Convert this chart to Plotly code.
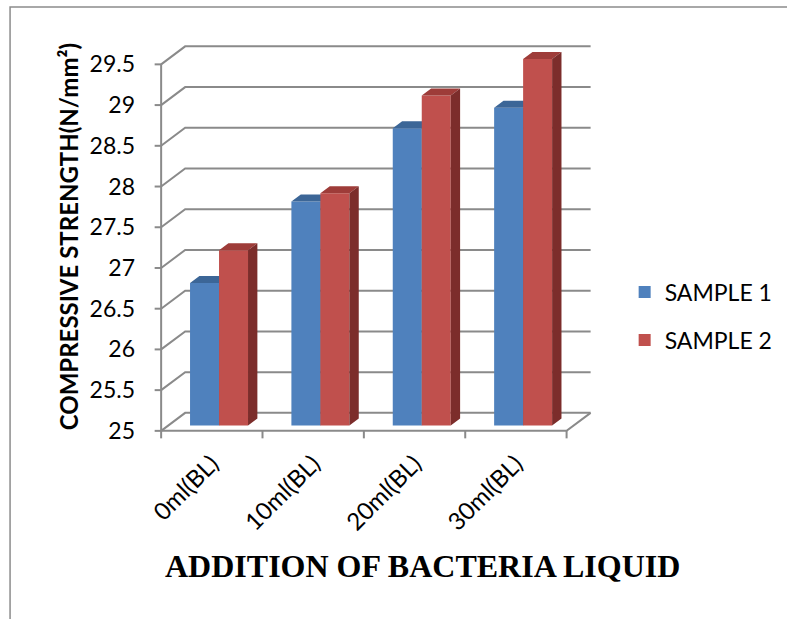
import plotly.graph_objects as go

# ---- data ----
categories = ["0ml(BL)", "10ml(BL)", "20ml(BL)", "30ml(BL)"]
sample1 = [26.75, 27.75, 28.65, 28.9]
sample2 = [27.15, 27.85, 29.05, 29.5]
series_names = ["SAMPLE 1", "SAMPLE 2"]
y_ticks = [25, 25.5, 26, 26.5, 27, 27.5, 28, 28.5, 29, 29.5]
y_tick_labels = ["25", "25.5", "26", "26.5", "27", "27.5", "28", "28.5", "29", "29.5"]

# ---- pseudo-3D geometry (x in category units, y in value units) ----
Y_MIN = 25
DEPTH_X = 0.237          # horizontal shift from front plane to back wall
DEPTH_Y = 0.221          # vertical shift from front plane to back wall
FRONT_FRAC = 0.30        # depth at which bar fronts sit
BAR_FRAC = 0.39          # bar thickness as a share of the depth
BAR_W = 0.286            # bar width in category units
X_RANGE = [-0.1, 4.3]
Y_RANGE = [24.9, 29.75]

GRID = "#8a8a8a"
FRONT = ["#4F81BD", "#C0504D"]
TOP = ["#3C6697", "#9E3C39"]
SIDE = ["#335884", "#7C2D2B"]
FONT = "Lato, 'Open Sans', sans-serif"
TICK_SIZE = 23

n_cat = len(categories)
fx, fy = FRONT_FRAC * DEPTH_X, FRONT_FRAC * DEPTH_Y
sx, sy = BAR_FRAC * DEPTH_X, BAR_FRAC * DEPTH_Y

fig = go.Figure()

# back wall gridlines with their left-wall diagonals
gx, gy = [], []
for v in y_ticks:
    gx += [0, DEPTH_X, n_cat + DEPTH_X, None]
    gy += [v, v + DEPTH_Y, v + DEPTH_Y, None]
# floor front edge + right diagonal, front value axis
gx += [0, n_cat, n_cat + DEPTH_X, None, 0, 0, None]
gy += [Y_MIN, Y_MIN, Y_MIN + DEPTH_Y, None, Y_MIN, y_ticks[-1], None]
# tick marks
tlx = 0.064
tly = 0.092
for v in y_ticks:
    gx += [-tlx, 0, None]
    gy += [v, v, None]
for k in range(n_cat + 1):
    gx += [k, k, None]
    gy += [Y_MIN, Y_MIN - tly, None]
fig.add_trace(go.Scatter(x=gx, y=gy, mode="lines", line=dict(color=GRID, width=2),
                         hoverinfo="skip", showlegend=False, xaxis="x", yaxis="y"))

# bars: each series on its own overlaid axis pair so later series paint on top
for s, vals in enumerate([sample1, sample2]):
    xa, ya = f"x{s + 2}", f"y{s + 2}"
    centers = [i + 0.5 + fx + (s - 0.5) * BAR_W for i in range(n_cat)]
    base = Y_MIN + fy
    fig.add_trace(go.Bar(
        x=centers, y=[v - Y_MIN for v in vals], base=base, width=BAR_W,
        marker=dict(color=FRONT[s], line=dict(width=0)), name=series_names[s],
        legendgroup=series_names[s], customdata=vals,
        hovertemplate="%{customdata}<extra>" + series_names[s] + "</extra>",
        xaxis=xa, yaxis=ya))
    tx, ty, px, py = [], [], [], []
    for c, v in zip(centers, vals):
        xl, xr = c - BAR_W / 2, c + BAR_W / 2
        t = v + fy
        tx += [xl, xr, xr + sx, xl + sx, xl, None]
        ty += [t, t, t + sy, t + sy, t, None]
        px += [xr, xr, xr + sx, xr + sx, xr, None]
        py += [base, t, t + sy, base + sy, base, None]
    fig.add_trace(go.Scatter(x=tx, y=ty, fill="toself", fillcolor=TOP[s], mode="lines",
                             line=dict(width=0, color=TOP[s]), hoverinfo="skip",
                             showlegend=False, xaxis=xa, yaxis=ya))
    fig.add_trace(go.Scatter(x=px, y=py, fill="toself", fillcolor=SIDE[s], mode="lines",
                             line=dict(width=0, color=SIDE[s]), hoverinfo="skip",
                             showlegend=False, xaxis=xa, yaxis=ya))

hidden = dict(visible=False, showgrid=False, zeroline=False, fixedrange=True)
fig.update_layout(
    width=787, height=619,
    margin=dict(l=151, r=190, t=44, b=180, autoexpand=False),
    paper_bgcolor="white", plot_bgcolor="rgba(0,0,0,0)",
    barmode="overlay",
    font=dict(family=FONT, size=TICK_SIZE, color="black"),
    xaxis=dict(range=X_RANGE, tickvals=[i + 0.5 for i in range(n_cat)], ticktext=categories,
               tickangle=-45, ticks="", showgrid=False, zeroline=False, showline=False,
               ticklabelstandoff=5, tickfont=dict(size=24)),
    yaxis=dict(range=Y_RANGE, tickvals=y_ticks, ticktext=y_tick_labels, ticks="",
               showgrid=False, zeroline=False, showline=False, ticklabelstandoff=15,
               tickfont=dict(size=TICK_SIZE)),
    xaxis2=dict(hidden, overlaying="x", range=X_RANGE),
    yaxis2=dict(hidden, overlaying="y", range=Y_RANGE),
    xaxis3=dict(hidden, overlaying="x", range=X_RANGE),
    yaxis3=dict(hidden, overlaying="y", range=Y_RANGE),
    legend=dict(x=1.062, y=0.311, xanchor="left", yanchor="middle", font=dict(size=TICK_SIZE),
                tracegroupgap=15, traceorder="grouped", bgcolor="rgba(0,0,0,0)"),
    shapes=[dict(type="rect", xref="paper", yref="paper", x0=-0.316, y0=-0.49,
                 x1=1.47, y1=1.0937, line=dict(color="#8c8c8c", width=1.5), layer="below")],
    annotations=[
        dict(text="COMPRESSIVE STRENGTH(N/mm²)", textangle=-90, xref="paper", yref="paper",
             x=-0.185, y=0.512, xanchor="center", yanchor="middle", showarrow=False,
             font=dict(size=24, family=FONT, weight="bold")),
        dict(text="<b>ADDITION OF BACTERIA LIQUID</b>", xref="paper", yref="paper",
             x=0.608, y=-0.3215, xanchor="center", yanchor="middle", showarrow=False,
             font=dict(size=32, family="'Liberation Serif', 'Times New Roman', serif")),
    ],
)

fig.write_html("out.html")
